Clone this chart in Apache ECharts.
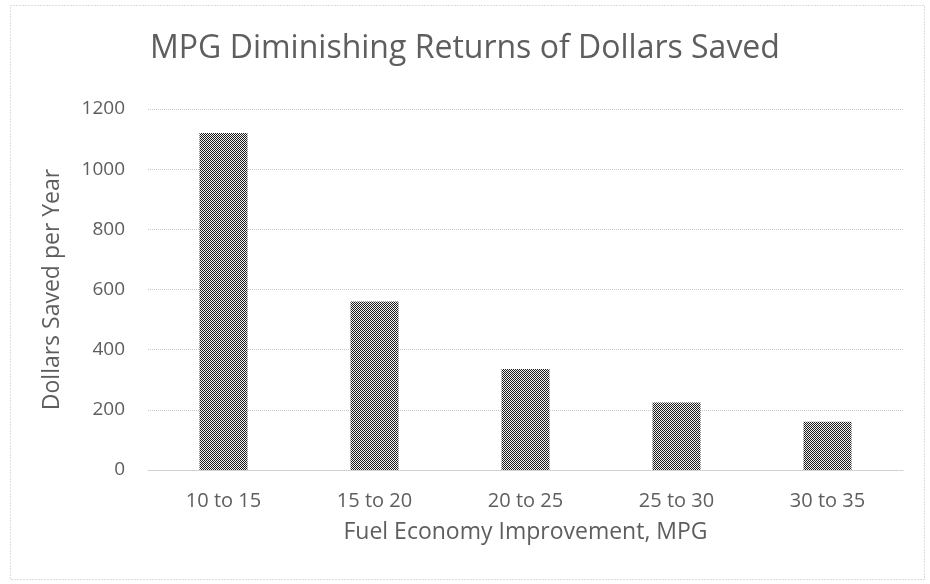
<!DOCTYPE html>
<html>
<head>
<meta charset="utf-8">
<script src="https://cdn.jsdelivr.net/npm/echarts@6/dist/echarts.min.js"></script>
<style>
  html, body { margin: 0; padding: 0; background: #fff; }
  #chart { width: 930px; height: 584px; }
</style>
</head>
<body>
<div id="chart"></div>
<script>
const categories = ['10 to 15', '15 to 20', '20 to 25', '25 to 30', '30 to 35'];
const dollarsSaved = [1120, 560, 336, 224, 160];
const yTicks = [0, 200, 400, 600, 800, 1000, 1200];

// small checker tile to mimic the dithered fill
const tile = document.createElement('canvas');
tile.width = 2;
tile.height = 2;
const tctx = tile.getContext('2d');
tctx.fillStyle = '#f0f0f0';
tctx.fillRect(0, 0, 2, 2);
tctx.fillStyle = '#1e1e1e';
tctx.fillRect(0, 0, 1, 1);
tctx.fillRect(1, 1, 1, 1);

const textColor = '#5e5e5e';
const font = '"Open Sans", Lato, sans-serif';

const chart = echarts.init(document.getElementById('chart'));
const option = {
    animation: false,
    backgroundColor: '#fff',
    title: {
        text: 'MPG Diminishing Returns of Dollars Saved',
        left: 'center',
        top: 28,
        textStyle: {
            fontFamily: font,
            fontSize: 32,
            fontWeight: 'normal',
            color: textColor
        }
    },
    grid: {
        left: 148,
        right: 27,
        top: 109,
        bottom: 114
    },
    xAxis: {
        type: 'category',
        data: categories,
        axisLine: { lineStyle: { color: '#c8c8c8', type: 'dotted' } },
        axisTick: { show: false },
        axisLabel: {
            color: textColor,
            fontFamily: font,
            fontSize: 20,
            margin: 21
        },
        name: 'Fuel Economy Improvement, MPG',
        nameLocation: 'middle',
        nameGap: 51,
        nameTextStyle: {
            color: textColor,
            fontFamily: font,
            fontSize: 23
        }
    },
    yAxis: {
        type: 'value',
        min: 0,
        max: 1200,
        interval: 200,
        axisLine: { show: false },
        axisTick: { show: false },
        axisLabel: {
            color: textColor,
            fontFamily: font,
            fontSize: 19,
            margin: 23,
            formatter: v => yTicks.includes(v) ? String(v) : ''
        },
        splitLine: { lineStyle: { color: '#c8c8c8', type: 'dotted' } },
        name: 'Dollars Saved per Year',
        nameLocation: 'middle',
        nameGap: 84,
        nameTextStyle: {
            color: textColor,
            fontFamily: font,
            fontSize: 23
        }
    },
    series: [{
        type: 'bar',
        data: dollarsSaved,
        barWidth: 48,
        itemStyle: {
            color: { image: tile, repeat: 'repeat' }
        }
    }],
    graphic: [{
        type: 'rect',
        shape: { x: 10.5, y: 5.5, width: 914, height: 574 },
        style: { fill: 'none', stroke: '#bbbbbb', lineWidth: 1, lineDash: [1, 2] },
        silent: true
    }]
};
chart.setOption(option);
window.addEventListener('resize', () => chart.resize());
</script>
</body>
</html>
